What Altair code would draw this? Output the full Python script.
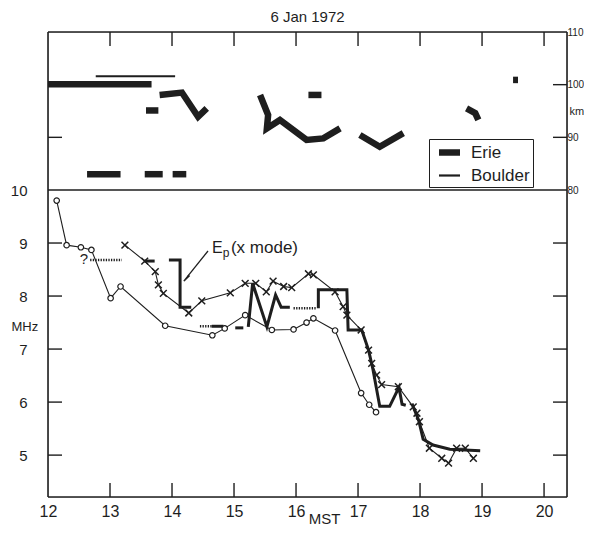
import altair as alt
import pandas as pd

# ---------------- data ----------------
# lower panel: circles
circ_hr = [12.14, 12.30, 12.53, 12.70, 13.01, 13.17, 13.89, 14.65, 14.85, 15.18,
           15.61, 15.96, 16.17, 16.28, 16.63, 17.05, 17.18, 17.29]
circ_mhz = [9.80, 8.96, 8.92, 8.87, 7.96, 8.18, 7.44, 7.26, 7.39, 7.64,
            7.36, 7.37, 7.50, 7.58, 7.35, 6.17, 5.95, 5.81]

# lower panel: crosses
cross_hr = [13.24, 13.56, 13.73, 13.78, 13.86, 14.27, 14.48, 14.94, 15.18, 15.35,
            15.52, 15.63, 15.80, 15.93, 16.20, 16.28, 16.63, 16.76, 16.82, 17.05,
            17.17, 17.22, 17.30, 17.38, 17.65, 17.89, 17.95, 17.99, 18.15, 18.35,
            18.46, 18.59, 18.73, 18.86]
cross_mhz = [8.96, 8.66, 8.46, 8.21, 8.05, 7.68, 7.91, 8.06, 8.24, 8.24,
             8.08, 8.28, 8.18, 8.16, 8.42, 8.40, 8.08, 7.80, 7.64, 7.36,
             6.98, 6.73, 6.51, 6.33, 6.29, 5.91, 5.79, 5.63, 5.13, 4.94,
             4.85, 5.13, 5.13, 4.94]

# lower panel: heavy trace (segments)
step_seg = [1, 1,
            2, 2, 2, 2,
            3, 3,
            4, 4,
            5, 5, 5, 5, 5, 5,
            6, 6, 6, 6, 6, 6, 6, 6, 6, 6, 6, 6,
            7, 7, 7, 7, 7, 7]
step_hr = [13.55, 13.72,
           13.95, 14.13, 14.13, 14.31,
           14.64, 14.83,
           15.02, 15.15,
           15.23, 15.30, 15.53, 15.67, 15.76, 15.90,
           16.36, 16.36, 16.82, 16.84, 17.06, 17.17, 17.24, 17.35, 17.51, 17.66, 17.71, 17.77,
           17.87, 17.98, 18.05, 18.21, 18.48, 18.97]
step_mhz = [8.66, 8.66,
            8.68, 8.68, 7.79, 7.79,
            7.43, 7.43,
            7.40, 7.40,
            7.42, 8.24, 7.42, 8.02, 7.79, 7.79,
            7.77, 8.12, 8.12, 7.36, 7.36, 6.98, 6.62, 5.92, 5.92, 6.28, 5.96, 5.94,
            5.97, 5.65, 5.30, 5.19, 5.11, 5.08]

# lower panel: dotted (uncertain) pieces
dot_seg = [1, 1, 2, 2, 3, 3]
dot_hr = [12.68, 13.19, 14.45, 14.64, 15.96, 16.33]
dot_mhz = [8.68, 8.68, 7.43, 7.43, 7.77, 7.77]

# upper panel: Erie (heavy) height segments, km
erie_seg = [1, 1,
            2, 2,
            3, 3, 3, 3,
            4, 4,
            5, 5,
            6, 6,
            7, 7, 7, 7, 7, 7, 7,
            8, 8,
            9, 9, 9,
            10, 10, 10,
            11, 11]
erie_hr = [12.00, 13.67,
           13.58, 13.78,
           13.80, 14.16, 14.42, 14.56,
           12.63, 13.17,
           13.56, 13.85,
           14.01, 14.23,
           15.42, 15.55, 15.53, 15.74, 16.17, 16.44, 16.71,
           16.20, 16.41,
           17.03, 17.35, 17.73,
           18.75, 18.89, 18.94,
           19.50, 19.58]
erie_km = [100.1, 100.1,
           95.1, 95.1,
           98.05, 98.5, 93.9, 95.5,
           83.0, 83.0,
           83.0, 83.0,
           83.0, 83.0,
           98.05, 94.25, 91.7, 93.3, 89.5, 89.8, 91.7,
           98.05, 98.05,
           90.45, 88.2, 90.8,
           95.5, 94.6, 93.3,
           100.9, 100.9]

# upper panel: Boulder (thin)
boulder_hr = [12.77, 14.05]
boulder_km = [101.6, 101.6]

# axis values
hour_labels = [12, 13, 14, 15, 16, 17, 18, 19, 20]
hour_ticks = [13, 14, 15, 16, 17, 18, 19, 20]
mhz_labels = [10, 9, 8, 7, 6, 5]
mhz_ticks = [9, 8, 7, 6, 5]
km_labels = [110, 100, 90, 80]
km_ticks = [100, 90]

# annotations
ep_hr = [14.645, 14.82, 14.95]
ep_mhz = [8.81, 8.74, 8.81]
ep_txt = ["E", "p", "(x mode)"]
ep_size = [16, 12, 17]
arrow_hr = [14.58, 14.19]
arrow_mhz = [8.85, 8.28]
q_hr = [12.58]
q_mhz = [8.70]

# ---------------- layout ----------------
W, H, SPLIT = 519, 465, 158
X_DOM = [12, 20.37]
MHZ_DOM = [4.21, 10]
KM_DOM = [80, 110]
INK = "#1e1e1e"
FONT = "Liberation Sans, Arial, sans-serif"

tick_px = 14
hr_len = tick_px * (X_DOM[1] - X_DOM[0]) / W
mhz_len = tick_px * (MHZ_DOM[1] - MHZ_DOM[0]) / (H - SPLIT)
km_len = tick_px * (KM_DOM[1] - KM_DOM[0]) / SPLIT

x_scale = alt.Scale(domain=X_DOM, nice=False, zero=False)
mhz_scale = alt.Scale(domain=MHZ_DOM, range=[H, SPLIT], nice=False, zero=False)
km_scale = alt.Scale(domain=KM_DOM, range=[SPLIT, 0], nice=False, zero=False)

x_axis = alt.Axis(values=hour_labels, format="d", ticks=False, domain=False, grid=False,
                  labelPadding=6, labelFontSize=16, labelFont=FONT, labelColor=INK,
                  labelFlush=False, labelOverlap=False,
                  title="MST", titleFont=FONT, titleFontSize=15, titleFontWeight="normal",
                  titleColor=INK, titleBaseline="top", titleAlign="center",
                  titleX=276, titleY=14)
mhz_axis = alt.Axis(orient="left", values=mhz_labels, format="d", ticks=False, domain=False,
                    grid=False, labelPadding=21, labelFontSize=15, labelFont=FONT,
                    labelColor=INK, labelFlush=False, labelOverlap=False, labelBound=False,
                    title="MHz", titleFont=FONT, titleFontSize=13, titleFontWeight="normal",
                    titleColor=INK, titleAngle=0, titleAlign="left", titleBaseline="middle",
                    titleX=-37, titleY=294)
km_axis = alt.Axis(orient="right", values=km_labels, format="d", ticks=False, domain=False,
                   grid=False, labelPadding=0, labelFontSize=10, labelFont=FONT,
                   labelColor=INK, labelFlush=False, labelOverlap=False, labelBound=False,
                   title="km", titleFont=FONT, titleFontSize=11, titleFontWeight="normal",
                   titleColor=INK, titleAngle=0, titleAlign="left", titleBaseline="middle",
                   titleX=2, titleY=79)

X = alt.X("hr:Q", scale=x_scale, axis=x_axis)
Ym = alt.Y("mhz:Q", scale=mhz_scale, axis=mhz_axis)
Yk = alt.Y("km:Q", scale=km_scale, axis=km_axis)


def seq(hr, val, name, seg=None):
    d = {"hr": hr, name: val, "i": list(range(len(hr)))}
    d["seg"] = seg if seg is not None else [0] * len(hr)
    return pd.DataFrame(d)


circ_df = seq(circ_hr, circ_mhz, "mhz")
cross_df = seq(cross_hr, cross_mhz, "mhz")
step_df = seq(step_hr, step_mhz, "mhz", step_seg)
dot_df = seq(dot_hr, dot_mhz, "mhz", dot_seg)

# frame and inward ticks of the lower panel
vframe_df = pd.DataFrame({"hr": X_DOM})
hframe_df = pd.DataFrame({"mhz": [MHZ_DOM[0], MHZ_DOM[1]]})
mt_rows = []
for v in mhz_ticks:
    mt_rows.append({"hr": X_DOM[0], "hr2": X_DOM[0] + hr_len, "mhz": v})
    mt_rows.append({"hr": X_DOM[1] - hr_len, "hr2": X_DOM[1], "mhz": v})
mt_df = pd.DataFrame(mt_rows)
bt_df = pd.DataFrame({"hr": hour_ticks, "mhz": [MHZ_DOM[0]] * len(hour_ticks),
                      "mhz2": [MHZ_DOM[0] + mhz_len] * len(hour_ticks)})

ep_df = pd.DataFrame({"hr": ep_hr, "mhz": ep_mhz, "t": ep_txt, "fs": ep_size})
arrow_df = pd.DataFrame({"hr": [arrow_hr[0]], "hr2": [arrow_hr[1]],
                         "mhz": [arrow_mhz[0]], "mhz2": [arrow_mhz[1]]})
head_df = pd.DataFrame({"hr": [arrow_hr[1] + 0.06], "mhz": [arrow_mhz[1] + 0.07]})
q_df = pd.DataFrame({"hr": q_hr, "mhz": q_mhz, "t": ["?"]})

lower = alt.layer(
    alt.Chart(vframe_df).mark_rule(color=INK, strokeWidth=1.6).encode(x=X),
    alt.Chart(hframe_df).mark_rule(color=INK, strokeWidth=1.6).encode(y=Ym),
    alt.Chart(mt_df).mark_rule(color=INK, strokeWidth=1.4).encode(x=X, x2="hr2:Q", y=Ym),
    alt.Chart(bt_df).mark_rule(color=INK, strokeWidth=1.4).encode(x=X, y=Ym, y2="mhz2:Q"),
    alt.Chart(circ_df).mark_line(color=INK, strokeWidth=1.1).encode(x=X, y=Ym, order="i:Q"),
    alt.Chart(cross_df).mark_line(color=INK, strokeWidth=1.1).encode(x=X, y=Ym, order="i:Q"),
    alt.Chart(dot_df).mark_line(color=INK, strokeWidth=2.6, strokeDash=[1.3, 1.3]).encode(
        x=X, y=Ym, detail="seg:N", order="i:Q"),
    alt.Chart(step_df).mark_line(color=INK, strokeWidth=3, strokeJoin="miter").encode(
        x=X, y=Ym, detail="seg:N", order="i:Q"),
    alt.Chart(circ_df).mark_point(shape="circle", filled=True, fill="white", stroke=INK,
                                  strokeWidth=1.2, size=30, opacity=1).encode(x=X, y=Ym),
    alt.Chart(cross_df).mark_point(shape="M-1,-1L1,1M-1,1L1,-1", filled=False, stroke=INK,
                                   strokeWidth=1.5, size=46, opacity=1).encode(x=X, y=Ym),
    alt.Chart(arrow_df).mark_rule(color=INK, strokeWidth=1.3).encode(
        x=X, x2="hr2:Q", y=Ym, y2="mhz2:Q"),
    alt.Chart(head_df).mark_point(shape="wedge", filled=True, color=INK, size=90, angle=219,
                                  opacity=1).encode(x=X, y=Ym),
    alt.Chart(ep_df).mark_text(align="left", baseline="alphabetic", font=FONT, color=INK).encode(
        x=X, y=Ym, text="t:N", size=alt.Size("fs:Q", scale=None, legend=None)),
    alt.Chart(q_df).mark_text(align="center", baseline="middle", font=FONT, fontSize=15,
                              color=INK).encode(x=X, y=Ym, text="t:N"),
)

# upper panel
top_df = pd.concat([
    pd.DataFrame({"hr": erie_hr, "km": erie_km, "seg": [f"e{s}" for s in erie_seg],
                  "station": "Erie", "i": list(range(len(erie_hr)))}),
    pd.DataFrame({"hr": boulder_hr, "km": boulder_km, "seg": "b0",
                  "station": "Boulder", "i": list(range(len(boulder_hr)))}),
], ignore_index=True)

ktop_df = pd.DataFrame({"km": [KM_DOM[1]]})
kt_rows = []
for v in km_ticks:
    kt_rows.append({"hr": X_DOM[0], "hr2": X_DOM[0] + hr_len, "km": v})
    kt_rows.append({"hr": X_DOM[1] - hr_len, "hr2": X_DOM[1], "km": v})
kt_df = pd.DataFrame(kt_rows)
tt_df = pd.DataFrame({"hr": hour_ticks, "km": [KM_DOM[1]] * len(hour_ticks),
                      "km2": [KM_DOM[1] - km_len] * len(hour_ticks)})

legend = alt.Legend(title=None, orient="none", legendX=381, legendY=107, direction="vertical",
                    symbolType="M-1.45,0L1.45,0", symbolSize=210, symbolStrokeColor=INK,
                    symbolOffset=7, labelFontSize=17, labelFont=FONT, labelColor=INK,
                    labelOffset=11, padding=3, rowPadding=0, strokeColor=INK,
                    fillColor="white")

upper = alt.layer(
    alt.Chart(ktop_df).mark_rule(color=INK, strokeWidth=1.6).encode(y=Yk),
    alt.Chart(kt_df).mark_rule(color=INK, strokeWidth=1.4).encode(x=X, x2="hr2:Q", y=Yk),
    alt.Chart(tt_df).mark_rule(color=INK, strokeWidth=1.4).encode(x=X, y=Yk, y2="km2:Q"),
    alt.Chart(top_df).mark_line(color=INK, strokeJoin="miter", strokeCap="butt").encode(
        x=X, y=Yk, detail="seg:N", order="i:Q",
        strokeWidth=alt.StrokeWidth("station:O", sort=["Erie", "Boulder"],
                                    scale=alt.Scale(domain=["Erie", "Boulder"], range=[6.5, 2.2]),
                                    legend=legend)),
)

chart = alt.layer(lower, upper).resolve_scale(y="independent").properties(
    width=W, height=H,
    title=alt.TitleParams("6 Jan 1972", font=FONT, fontSize=15, fontWeight="normal",
                          color=INK, offset=2, anchor="middle"),
    autosize=alt.AutoSizeParams(type="none"),
    padding={"left": 40, "top": 24, "right": 17, "bottom": 30},
).configure_view(strokeOpacity=0).configure(font=FONT)

chart.save("out.html", embed_options={"renderer": "svg", "actions": False})
